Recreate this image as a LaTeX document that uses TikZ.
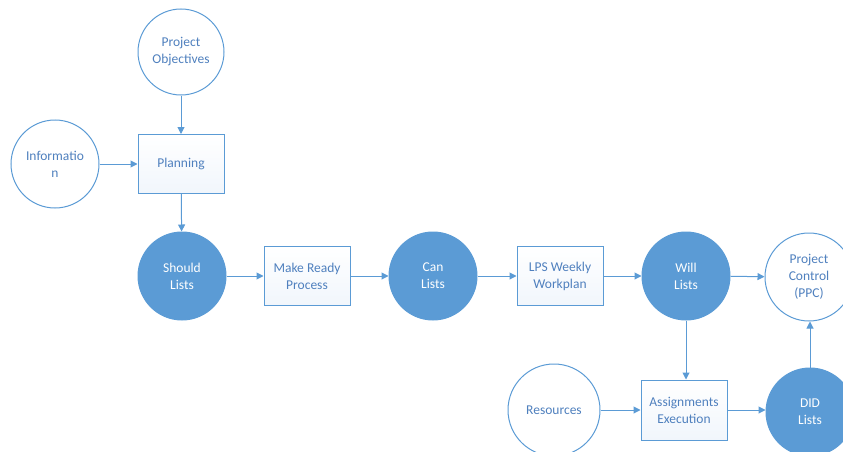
\documentclass[tikz,border=0pt]{standalone}
\usepackage{fontspec}
\setmainfont{Carlito}
\usetikzlibrary{arrows.meta}
\definecolor{obl}{HTML}{5B9BD5}
\definecolor{otx}{HTML}{4F80BE}
\definecolor{boxbot}{HTML}{F1F6FC}
\tikzset{
  base/.style={font=\fontsize{13.5}{17}\selectfont, align=center, line width=1pt, draw=obl},
  opencirc/.style={base, circle, minimum size=88pt, inner sep=0pt, text=otx, fill=white},
  fillcirc/.style={base, circle, minimum size=88pt, inner sep=0pt, text=white, fill=obl},
  procbox/.style={base, rectangle, minimum width=86pt, minimum height=59pt, inner sep=0pt, text=otx, top color=white, bottom color=boxbot},
  flow/.style={draw=obl, line width=1pt, -{Triangle[width=7pt,length=7pt]}}
}
\begin{document}
\begin{tikzpicture}[x=1pt,y=-1pt]
\useasboundingbox (0,0) rectangle (843,452);
\node[opencirc, minimum size=86pt] (obj) at (181,52) {Project\\Objectives};
\node[opencirc] (info) at (55,164) {Informatio\\n};
\node[procbox] (plan) at (181,164) {Planning};
\node[fillcirc] (should) at (182,276) {Should\\Lists};
\node[procbox] (mrp) at (307,276) {Make Ready\\Process};
\node[fillcirc] (can) at (433,276) {Can\\Lists};
\node[procbox] (lps) at (560,276) {LPS Weekly\\Workplan};
\node[fillcirc] (will) at (686,276) {Will\\Lists};
\node[opencirc] (ppc) at (809,277) {Project\\Control\\(PPC)};
\node[opencirc, minimum size=92pt] (res) at (554,410) {Resources};
\node[procbox, minimum height=60pt] (ae) at (684,410) {Assignments\\Execution};
\node[fillcirc] (did) at (810,412) {DID\\Lists};
\draw[flow] (obj) -- (plan);
\draw[flow] (info) -- (plan);
\draw[flow] (plan) -- (should);
\draw[flow] (should) -- (mrp);
\draw[flow] (mrp) -- (can);
\draw[flow] (can) -- (lps);
\draw[flow] (lps) -- (will);
\draw[flow] (will) -- (ppc);
\draw[flow] (will.south) -- (will.south |- ae.north);
\draw[flow] (res) -- (ae);
\draw[flow] (ae.east) -- (ae.east -| did.west);
\draw[flow] (did.north) -- (did.north |- ppc.south);
\end{tikzpicture}
\end{document}
